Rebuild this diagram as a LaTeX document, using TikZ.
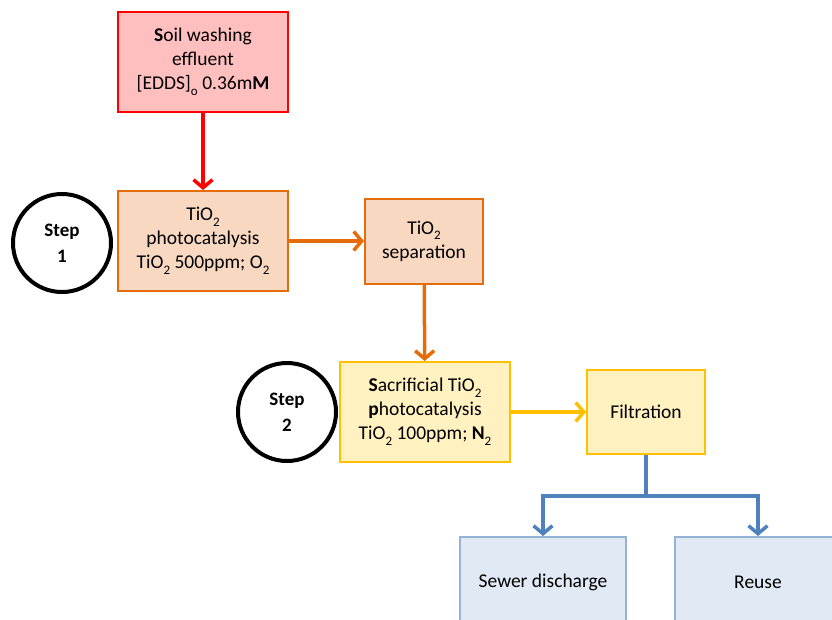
\documentclass[tikz,border=0pt]{standalone}
\usepackage{fontspec}
\setmainfont{Carlito}
\usepackage{tikz}
\usetikzlibrary{arrows.meta}
\usetikzlibrary{positioning}
\definecolor{soilRed}{RGB}{255,0,0}
\definecolor{soilFill}{RGB}{255,191,191}
\definecolor{stepOrange}{RGB}{228,108,10}
\definecolor{stepOrangeFill}{RGB}{249,216,193}
\definecolor{stepYellow}{RGB}{255,192,0}
\definecolor{stepYellowFill}{RGB}{255,241,192}
\definecolor{outBlue}{RGB}{79,129,189}
\definecolor{outBlueLine}{RGB}{149,179,215}
\definecolor{outBlueFill}{RGB}{225,233,244}
\tikzstyle{box} = [rectangle, inner sep = 0pt, align = center, font = \fontsize{19.5}{24}\selectfont, line width = 2pt]
\tikzstyle{flow} = [line width = 3.5pt, -{Straight Barb[length = 8pt, width = 19pt, line width = 3.5pt]}]
\newcommand{\sub}[1]{\raisebox{-0.6ex}{\fontsize{13}{13}\selectfont #1}}

\begin{document}
\begin{tikzpicture}[x = 1pt, y = -1pt]
		% Поле рисунка
		\useasboundingbox (0, 0) rectangle (832, 619);
		\clip (0, 0) rectangle (832, 619);
		% Стили
		\tikzstyle{soil} = [box, draw = soilRed, fill = soilFill, minimum width = 170pt, minimum height = 100pt]
		\tikzstyle{orangebox} = [box, draw = stepOrange, fill = stepOrangeFill]
		\tikzstyle{yellowbox} = [box, draw = stepYellow, fill = stepYellowFill]
		\tikzstyle{bluebox} = [box, draw = outBlueLine, fill = outBlueFill, minimum width = 166pt, minimum height = 90pt]
		\tikzstyle{stepcircle} = [circle, draw = black, line width = 4pt, minimum size = 98pt, inner sep = 0pt, align = center, font = \fontsize{19}{26}\selectfont\bfseries]
		% Блоки
		\node[soil] (soil) at (203, 62) {\textbf{S}oil washing\\effluent\\{[EDDS]\sub{o}} 0.36m\textbf{M}};
		\node[orangebox, minimum width = 170pt, minimum height = 100pt] (photo) at (203, 241) {TiO\sub{2}\\photocatalysis\\TiO\sub{2} 500ppm; O\sub{2}};
		\node[orangebox, minimum width = 118pt, minimum height = 85pt] (sep) at (424, 241) {TiO\sub{2}\\separation};
		\node[yellowbox, minimum width = 170pt, minimum height = 100pt] (sacr) at (425, 412) {\textbf{S}acrificial TiO\sub{2}\\\textbf{p}hotocatalysis\\TiO\sub{2} 100ppm; \textbf{N}\sub{2}};
		\node[yellowbox, minimum width = 118pt, minimum height = 84pt] (filt) at (646, 412) {Filtration};
		\node[bluebox] (sewer) at (543, 582) {Sewer discharge};
		\node[bluebox] (reuse) at (758, 582) {Reuse};
		% Шаги
		\node[stepcircle] (step1) at (62, 243) {Step\\1};
		\node[stepcircle] (step2) at (287, 412) {Step\\2};
		% Стрелки
		\draw[flow, soilRed] (soil) -- (photo);
		\draw[flow, stepOrange] (photo) -- (sep);
		\draw[flow, stepOrange] (sep) -- (sacr);
		\draw[flow, stepYellow] (sacr) -- (filt);
		\draw[flow, outBlue, line width = 4.5pt] (filt.south) -- ++(0, 41) -| (sewer);
		\draw[flow, outBlue, line width = 4.5pt] (filt.south) -- ++(0, 41) -| (reuse);
	\end{tikzpicture}
\end{document}
